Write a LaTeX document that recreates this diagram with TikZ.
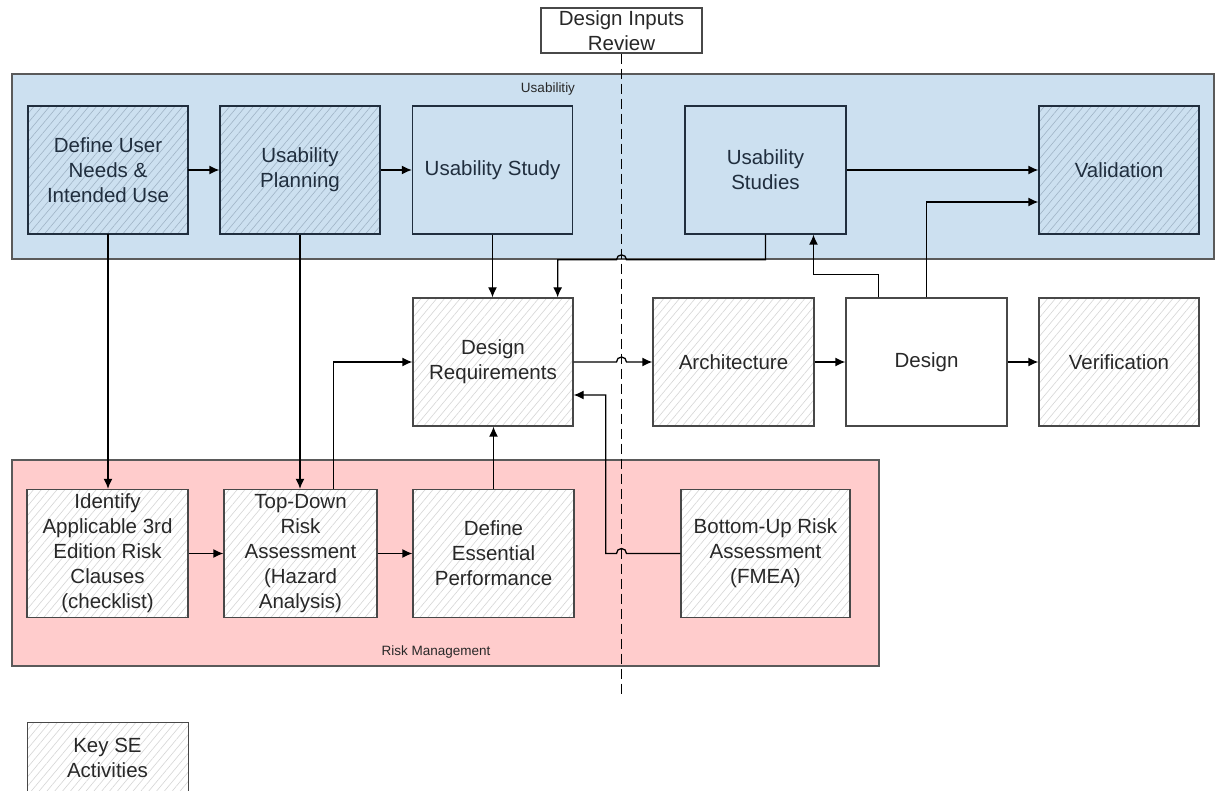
\documentclass[tikz,border=0pt]{standalone}
\usepackage{fontspec}
\setmainfont{Liberation Sans}
\usetikzlibrary{patterns.meta,arrows.meta,calc}
\definecolor{bluebg}{RGB}{204,224,240}
\definecolor{pinkbg}{RGB}{255,204,204}
\definecolor{navy}{RGB}{32,46,62}
\definecolor{boxgray}{RGB}{72,72,72}
\definecolor{regiongray}{RGB}{90,90,90}
\definecolor{txt}{RGB}{40,40,40}
\definecolor{bhatch}{RGB}{160,180,198}
\begin{document}
\begin{tikzpicture}[x=1pt,y=-1pt,
  every node/.style={font=\fontsize{20.5}{25}\selectfont, align=center, inner sep=0pt},
  box/.style={draw=boxgray, line width=1.3pt, minimum width=160pt, minimum height=128pt, text=txt},
  bbox/.style={box, draw=navy, text=navy},
  hatch/.style={preaction={fill=white}, pattern={Lines[angle=50,distance=6pt,line width=0.6pt]}, pattern color=black!16},
  bhatchbox/.style={preaction={fill=bluebg}, pattern={Lines[angle=50,distance=6pt,line width=0.6pt]}, pattern color=bhatch},
  region/.style={draw=regiongray, line width=1.8pt, minimum width=#1, anchor=north west},
  small/.style={font=\fontsize{13.5}{16}\selectfont, text=txt},
  conn/.style={draw=black, line width=1.3pt, -{Latex[length=10pt,width=9pt]}},
  dline/.style={draw=black, line width=1.5pt, dash pattern=on 10pt off 5pt},
]
\useasboundingbox (0,0) rectangle (1216,791);

% regions
\node[region=1202pt, fill=bluebg, minimum height=185pt] (blue) at (11,73) {};
\node[region=867pt, fill=pinkbg, minimum height=206pt] (pink) at (11,459) {};
\node[small] (ulab) at (548,89) {Usabilitiy};
\node[small] (rlab) at (436,652) {Risk Management};

% design inputs review + dashed line
\node[draw=boxgray, line width=1.2pt, fill=white, minimum width=161pt, minimum height=45pt, text=txt] (dir) at (621.5,30.5) {Design Inputs\\Review};
\coordinate (dend) at (621.5,698);
\draw[dline] (dir.south) -- (dend);

% usability row
\node[bbox, bhatchbox] (dun) at (108,170) {Define User\\Needs \&\\Intended Use};
\node[bbox, bhatchbox] (up) at (300,170) {Usability\\Planning};
\node[bbox, fill=bluebg] (ust) at (492.5,170) {Usability Study};
\node[bbox, fill=bluebg, minimum width=161pt] (usst) at (765.5,170) {Usability\\Studies};
\node[bbox, bhatchbox] (val) at (1119,170) {Validation};

% middle row
\node[box, hatch] (dreq) at (493,362) {Design\\Requirements};
\node[box, hatch, minimum width=161pt] (arch) at (733.5,362) {Architecture};
\node[box, fill=white, minimum width=161pt] (des) at (926.5,362) {Design};
\node[box, hatch] (ver) at (1119,362) {Verification};

% risk row
\node[box, hatch, minimum width=161pt] (idt) at (107.5,553.5) {Identify\\Applicable 3rd\\Edition Risk\\Clauses\\(checklist)};
\node[box, hatch, minimum width=153pt] (td) at (300.5,553.5) {Top-Down\\Risk\\Assessment\\(Hazard\\Analysis)};
\node[box, hatch, minimum width=161pt] (de) at (493.5,553.5) {Define\\Essential\\Performance};
\node[box, hatch, minimum width=169pt] (bu) at (765.5,553.5) {Bottom-Up Risk\\Assessment\\(FMEA)};

% key
\node[box, hatch, minimum width=161pt, anchor=north west] (key) at (27,722) {};
\node[text=txt] (keytxt) at (107.5,757.5) {Key SE\\Activities};

% connectors
\draw[conn] (dun) -- (up);
\draw[conn] (up) -- (ust);
\draw[conn] (usst) -- (val);
\draw[conn] (dun.south) -- (dun.south |- idt.north);
\draw[conn] (up.south) -- (up.south |- td.north);
\draw[conn] (ust.south) -- (ust.south |- dreq.north);
\coordinate (dq2) at ([xshift=-16pt]dreq.north east);
\draw[conn] (usst.south) -- (usst.south |- blue.south)
  -- ([xshift=5pt]blue.south -| dir.south) arc[start angle=0,end angle=180,radius=5pt]
  -- (blue.south -| dq2) -- (dq2);
\coordinate (k) at ([xshift=48pt,yshift=-40pt]usst.south);
\draw[conn] ([xshift=-48pt]des.north) |- (k) -- (k |- usst.south);
\draw[conn] (des.north) |- ([yshift=-32pt]val.west);
\draw[conn] (dreq.east) -- ([xshift=-5pt]dreq.east -| dir.south) arc[start angle=180,end angle=0,radius=5pt] -- (arch.west);
\draw[conn] (arch) -- (des);
\draw[conn] (des) -- (ver);
\draw[conn] (idt) -- (td);
\draw[conn] (td) -- (de);
\draw[conn] ([xshift=33pt]td.north) |- (dreq.west);
\draw[conn] (de.north) -- (de.north |- dreq.south);
\coordinate (b3) at ([yshift=-33pt]dreq.east);
\draw[conn] (bu.west) -- ([xshift=5pt]bu.west -| dir.south) arc[start angle=0,end angle=180,radius=5pt]
  -- ([xshift=32pt]bu.west -| dreq.east) |- (b3);
\end{tikzpicture}
\end{document}
